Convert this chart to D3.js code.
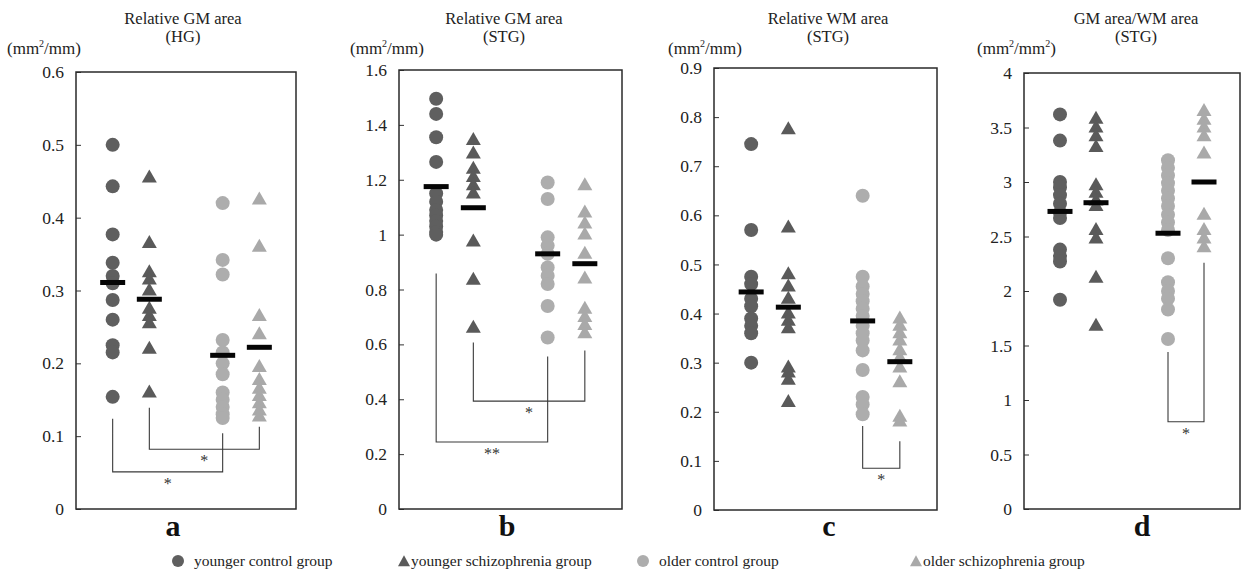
<!DOCTYPE html>
<html><head><meta charset="utf-8">
<script src="https://cdn.jsdelivr.net/npm/d3@7"></script>
<style>
body{margin:0;background:#fff;}
svg text{font-family:"Liberation Serif","Times New Roman","DejaVu Serif",serif;}
</style></head>
<body>
<svg id="chart" width="1241" height="571" font-family="Liberation Serif, DejaVu Serif, serif"></svg>
<script>
// ---- data ----
const groups = ["younger control group","younger schizophrenia group","older control group","older schizophrenia group"];
const panelLetters = ["a","b","c","d"];
const titles1 = ["Relative GM area","Relative GM area","Relative WM area","GM area/WM area"];
const titles2 = ["(HG)","(STG)","(STG)","(STG)"];
const unitLabels = [["mm","2","/mm"],["mm","2","/mm"],["mm","2","/mm"],["mm","2","/mm","2"]];

const aTicks = [0,0.1,0.2,0.3,0.4,0.5,0.6];
const bTicks = [0,0.2,0.4,0.6,0.8,1,1.2,1.4,1.6];
const cTicks = [0,0.1,0.2,0.3,0.4,0.5,0.6,0.7,0.8,0.9];
const dTicks = [0,0.5,1,1.5,2,2.5,3,3.5,4];

// panel a: Relative GM area (HG)
const aYoungCtrl  = [0.5,0.443,0.377,0.338,0.32,0.31,0.287,0.26,0.225,0.215,0.154];
const aYoungSchiz = [0.455,0.365,0.325,0.315,0.30,0.275,0.265,0.255,0.22,0.16];
const aOldCtrl    = [0.42,0.342,0.322,0.232,0.215,0.2,0.185,0.16,0.15,0.14,0.13,0.125];
const aOldSchiz   = [0.425,0.36,0.265,0.24,0.195,0.177,0.165,0.155,0.145,0.135,0.127];
const aMeans      = [0.311,0.288,0.211,0.222];
// panel b: Relative GM area (STG)
const bYoungCtrl  = [1.495,1.44,1.355,1.265,1.15,1.12,1.09,1.07,1.05,1.03,1.01,1.0];
const bYoungSchiz = [1.345,1.295,1.24,1.21,1.18,1.15,0.975,0.835,0.66];
const bOldCtrl    = [1.19,1.13,0.99,0.96,0.93,0.88,0.85,0.82,0.74,0.625];
const bOldSchiz   = [1.18,1.08,1.04,1.0,0.93,0.84,0.73,0.7,0.67,0.64];
const bMeans      = [1.175,1.098,0.93,0.894];
// panel c: Relative WM area (STG)
const cYoungCtrl  = [0.745,0.57,0.475,0.46,0.43,0.415,0.39,0.375,0.36,0.30];
const cYoungSchiz = [0.775,0.575,0.48,0.455,0.43,0.40,0.385,0.37,0.29,0.28,0.265,0.22];
const cOldCtrl    = [0.64,0.475,0.455,0.44,0.425,0.41,0.395,0.375,0.36,0.345,0.325,0.285,0.23,0.215,0.195];
const cOldSchiz   = [0.39,0.375,0.36,0.345,0.325,0.31,0.29,0.26,0.19,0.18];
const cMeans      = [0.444,0.413,0.385,0.302];
// panel d: GM area/WM area (STG)
const dYoungCtrl  = [3.62,3.38,3.0,2.95,2.88,2.8,2.72,2.67,2.38,2.32,2.27,1.92];
const dYoungSchiz = [3.58,3.5,3.42,3.32,2.97,2.9,2.83,2.78,2.56,2.48,2.12,1.68];
const dOldCtrl    = [3.2,3.13,3.06,2.99,2.92,2.85,2.78,2.7,2.63,2.56,2.3,2.08,2.0,1.93,1.83,1.56];
const dOldSchiz   = [3.65,3.57,3.5,3.42,3.26,2.7,2.56,2.48,2.4];
const dMeans      = [2.73,2.81,2.53,3.0];

// significance brackets: [fromGroup, toGroup, startValue, baseValue, endValue, label]
const aBrackets = [[0,2,0.124,0.051,0.104,"*"],[1,3,0.139,0.082,0.113,"*"]];
const bBrackets = [[0,2,0.858,0.244,0.556,"**"],[1,3,0.607,0.393,0.578,"*"]];
const cBrackets = [[2,3,0.171,0.085,0.14,"*"]];
const dBrackets = [[2,3,1.44,0.8,2.26,"*"]];

// ---- layout ----
const FONT = "Liberation Serif, DejaVu Serif, serif";
const svg = d3.select("#chart");
const frames = [
  {x0:76, x1:296, top:72, bottom:509, max:0.6},
  {x0:399,x1:622, top:70, bottom:509, max:1.6},
  {x0:714,x1:937, top:68, bottom:510, max:0.9},
  {x0:1024,x1:1240,top:73, bottom:509, max:4}
];
const titleX  = [183,504,828,1136];
const unitX   = [7,350,668,977];
const letterX = [173,507,829,1142];
const groupSlot = [1,2,4,5];
const colors = ["#5f5f5f","#5a5a5a","#adadad","#a9a9a9"];
const shapes = ["circle","triangle","circle","triangle"];

const panelData = [
  {series:[aYoungCtrl,aYoungSchiz,aOldCtrl,aOldSchiz], means:aMeans, ticks:aTicks, brackets:aBrackets},
  {series:[bYoungCtrl,bYoungSchiz,bOldCtrl,bOldSchiz], means:bMeans, ticks:bTicks, brackets:bBrackets},
  {series:[cYoungCtrl,cYoungSchiz,cOldCtrl,cOldSchiz], means:cMeans, ticks:cTicks, brackets:cBrackets},
  {series:[dYoungCtrl,dYoungSchiz,dOldCtrl,dOldSchiz], means:dMeans, ticks:dTicks, brackets:dBrackets}
];

const triPath = (w,h) => `M0,${-h*0.62}L${w/2},${h*0.38}L${-w/2},${h*0.38}Z`;

panelData.forEach((pd,i) => {
  const f = frames[i];
  const y = d3.scaleLinear().domain([0,f.max]).range([f.bottom,f.top]);
  const x = d3.scaleLinear().domain([0,6]).range([f.x0,f.x1]);
  const g = svg.append("g");

  // axis
  const ax = g.append("g").attr("transform",`translate(${f.x0},0)`)
    .call(d3.axisLeft(y).tickValues(pd.ticks).tickSize(-5).tickPadding(12).tickFormat(d3.format("~g")));
  ax.attr("font-family",FONT);
  ax.select(".domain").remove();
  ax.selectAll(".tick line").attr("stroke","#333").attr("stroke-width",1);
  ax.selectAll(".tick text").attr("font-size",17.5).attr("fill","#222").attr("font-family",FONT);

  // frame
  g.append("rect").attr("x",f.x0).attr("y",f.top).attr("width",f.x1-f.x0).attr("height",f.bottom-f.top)
    .attr("fill","none").attr("stroke","#2a2a2a").attr("stroke-width",1.5);

  // brackets
  pd.brackets.forEach(b => {
    const xa = x(groupSlot[b[0]]), xb = x(groupSlot[b[1]]);
    g.append("path")
      .attr("d",`M${xa},${y(b[2])}V${y(b[3])}H${xb}V${y(b[4])}`)
      .attr("fill","none").attr("stroke","#3a3a3a").attr("stroke-width",1.1);
    g.append("text").attr("x",(xa+xb)/2).attr("y",y(b[3])+17).attr("text-anchor","middle")
      .attr("font-family",FONT).attr("font-size",16).attr("fill","#333").text(b[5]);
  });

  // points
  pd.series.forEach((vals,k) => {
    const cx = x(groupSlot[k]);
    if (shapes[k]==="circle") {
      g.selectAll(null).data(vals).enter().append("circle")
        .attr("cx",cx).attr("cy",d=>y(d)).attr("r",7).attr("fill",colors[k]);
    } else {
      g.selectAll(null).data(vals).enter().append("path")
        .attr("d",triPath(15,13)).attr("transform",d=>`translate(${cx},${y(d)})`).attr("fill",colors[k]);
    }
  });

  // mean bars
  g.selectAll(null).data(pd.means).enter().append("rect")
    .attr("x",(d,k)=>x(groupSlot[k])-12.5).attr("y",d=>y(d)-2.5)
    .attr("width",25).attr("height",5).attr("fill","#050505");

  // titles
  g.append("text").attr("x",titleX[i]).attr("y",24).attr("text-anchor","middle").attr("font-family",FONT)
    .attr("font-size",16.5).attr("fill","#222").text(titles1[i]);
  g.append("text").attr("x",titleX[i]).attr("y",42).attr("text-anchor","middle").attr("font-family",FONT)
    .attr("font-size",16.5).attr("fill","#222").text(titles2[i]);
  // unit
  const u = unitLabels[i];
  const ut = g.append("text").attr("x",unitX[i]).attr("y",54).attr("font-family",FONT).attr("font-size",17).attr("fill","#222");
  ut.append("tspan").text("(" + u[0]);
  ut.append("tspan").attr("font-size",10).attr("dy",-7).text(u[1]);
  ut.append("tspan").attr("dy",7).text(u[2]);
  if (u[3]) {
    ut.append("tspan").attr("font-size",10).attr("dy",-7).text(u[3]);
    ut.append("tspan").attr("dy",7).text(")");
  } else {
    ut.append("tspan").text(")");
  }
  // letter
  g.append("text").attr("x",letterX[i]).attr("y",536).attr("text-anchor","middle").attr("font-family",FONT)
    .attr("font-size",30).attr("font-weight","bold").attr("fill","#111").text(panelLetters[i]);
});

// legend
const legX = [178,404,643,916];
const leg = svg.append("g");
groups.forEach((name,k) => {
  if (shapes[k]==="circle") {
    leg.append("circle").attr("cx",legX[k]).attr("cy",561).attr("r",6).attr("fill",colors[k]);
  } else {
    leg.append("path").attr("d",triPath(12,11)).attr("transform",`translate(${legX[k]},${562})`).attr("fill",colors[k]);
  }
  leg.append("text").attr("x",legX[k]+(shapes[k]==="circle"?16:7)).attr("y",566).attr("font-family",FONT)
    .attr("font-size",15.5).attr("fill","#222").text(name);
});
</script>
</body></html>
